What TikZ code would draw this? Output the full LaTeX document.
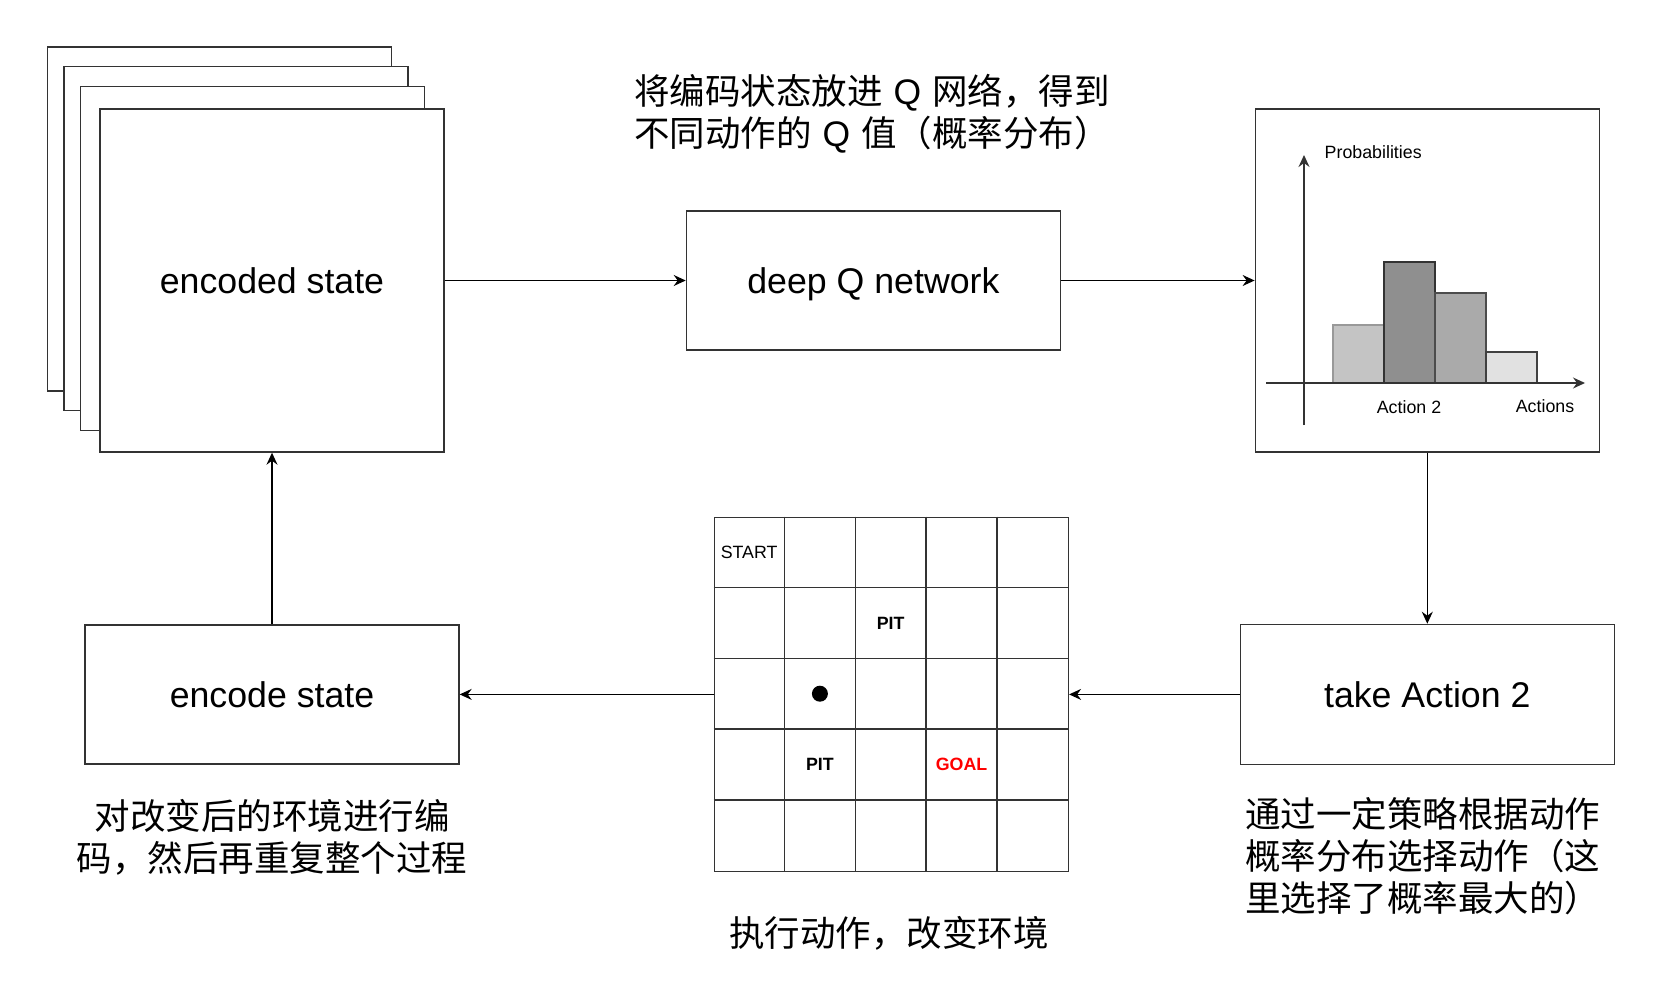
\documentclass[tikz,border=0pt]{standalone}
\usepackage{fontspec}
\setmainfont{Liberation Sans}
\newfontfamily\cjk{Noto Sans CJK SC}
\usetikzlibrary{positioning, arrows.meta}

\definecolor{linegray}{HTML}{333333}
\definecolor{barA}{HTML}{C4C4C4}
\definecolor{barB}{HTML}{8F8F8F}
\definecolor{barC}{HTML}{AAAAAA}
\definecolor{barD}{HTML}{E1E1E1}

\newcommand{\qsym}{\hspace{11pt}{\rmfamily Q}\hspace{11pt}}

\begin{document}
\begin{tikzpicture}[x=1pt, y=-1pt, >={Stealth[length=12pt, width=11pt, inset=4pt]},
	box/.style={draw=linegray, line width=1.4pt, fill=white, inner sep=0pt},
	big/.style={font=\fontsize{35.7}{43}\selectfont, text height=26pt, text depth=0pt},
	small/.style={font=\fontsize{17.8}{21}\selectfont, inner sep=0pt},
	cell/.style={font=\bfseries\fontsize{17.8}{21}\selectfont, inner sep=0pt},
	caption/.style={font=\cjk\fontsize{35.5}{42}\selectfont, inner sep=0pt}]
	\useasboundingbox (0,0) rectangle (1678,996);

	% stack of sheets behind the encoded state
	\foreach \dx/\dy in {52.5/61.5, 36/42, 19.5/22}
		\node[box, minimum width=344pt, minimum height=344pt] at (272-\dx, 280.5-\dy) {};

	\node[box, big, minimum width=344pt, minimum height=343pt] (enc) at (272,280.5) {encoded state};
	\node[box, big, right=241pt of enc, minimum width=374pt, minimum height=139pt] (dqn) {deep Q network};
	\node[box, right=193.5pt of dqn, minimum width=344pt, minimum height=343pt] (hist) {};
	\node[box, big, below=171pt of hist, minimum width=374pt, minimum height=140pt] (take) {take Action 2};
	\node[box, left=170.5pt of take, minimum size=354pt] (grid) {};
	\node[box, big, left=254pt of grid, minimum width=374pt, minimum height=139pt] (encst) {encode state};

	% histogram
	\foreach \x/\top/\col/\edge in {1333/325/barA/black!40, 1384/262/barB/linegray, 1435/293/barC/black!70, 1486/352/barD/black!75}
		\draw[fill=\col, draw=\edge, line width=1.4pt] (\x,383) rectangle (\x+51,\top);
	\draw[->, line width=1.3pt, linegray] (1266,383) -- (1585,383);
	\draw[->, line width=1.3pt, linegray] (1304,425) -- (1304,155);
	\node[small, anchor=west] (prob) at (1324.5,152) {Probabilities};
	\node[small] (act2) at (1409,407) {Action 2};
	\node[small] (acts) at (1545,406) {Actions};

	% grid world
	\foreach \i in {1,...,4} {
		\draw[linegray, line width=1.4pt] (grid.north west) ++(\i*70.8,0) -- ++(0,354);
		\draw[linegray, line width=1.4pt] (grid.north west) ++(0,\i*70.8) -- ++(354,0);
	}
	\node[small] (start) at ([shift={(35.4,35.4)}]grid.north west) {START};
	\node[cell] (pit1) at ([shift={(177,106.2)}]grid.north west) {PIT};
	\node[circle, fill, minimum size=16pt, inner sep=0pt] (agent) at ([shift={(106.2,177)}]grid.north west) {};
	\node[cell] (pit2) at ([shift={(106.2,247.8)}]grid.north west) {PIT};
	\node[cell, text=red] (goal) at ([shift={(247.8,247.8)}]grid.north west) {GOAL};

	% texts
	\node[caption, align=left, anchor=west] (qtext) at (634,114)
		{将编码状态放进\qsym 网络，得到\\不同动作的\qsym 值（概率分布）};
	\node[caption, align=left, anchor=west] (choose) at (1245,856)
		{通过一定策略根据动作\\概率分布选择动作（这\\里选择了概率最大的）};
	\node[caption] (exec) at (889,933) {执行动作，改变环境};
	\node[caption, align=center] (redo) at (272,837) {对改变后的环境进行编\\码，然后再重复整个过程};

	\draw [->, line width=1.3pt]
		(enc) edge (dqn)
		(dqn) edge (hist)
		(hist) edge (take)
		(take) edge (grid)
		(grid) edge (encst)
		(encst) edge (enc)
		;
\end{tikzpicture}
\end{document}
